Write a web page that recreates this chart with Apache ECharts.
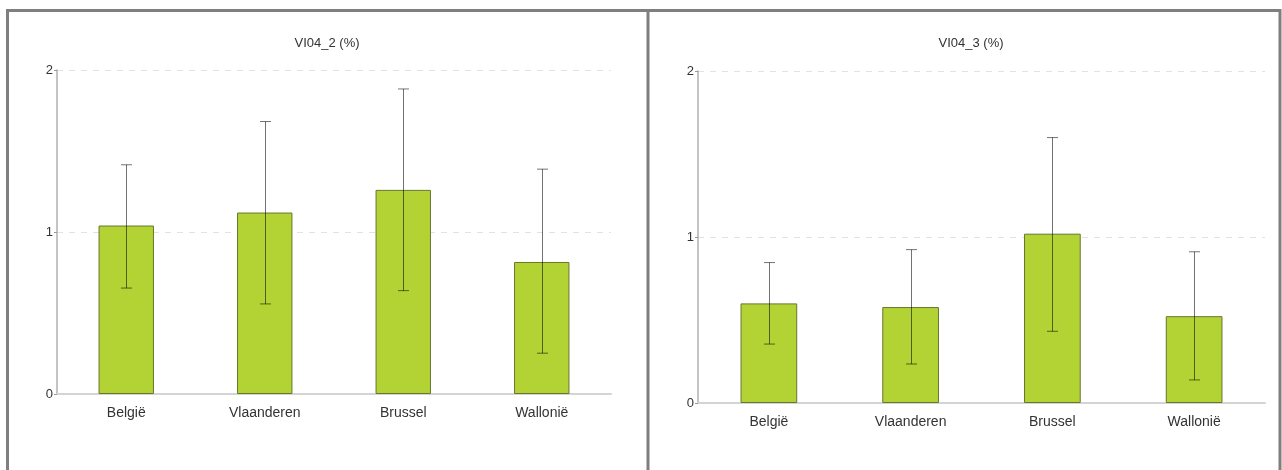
<!DOCTYPE html>
<html>
<head>
<meta charset="utf-8">
<script src="https://cdn.jsdelivr.net/npm/echarts@6/dist/echarts.min.js"></script>
<style>
  html, body { margin: 0; padding: 0; background: #fff; }
  #chart { width: 1282px; height: 470px; }
</style>
</head>
<body>
<div id="chart"></div>
<script>
// ---- data ----
const categories = ['België', 'Vlaanderen', 'Brussel', 'Wallonië'];
const titles = ['VI04_2 (%)', 'VI04_3 (%)'];
const yTicks = [0, 1, 2];

const vi042Values = [1.04, 1.12, 1.26, 0.815];
const vi042Low    = [0.654, 0.556, 0.638, 0.252];
const vi042High   = [1.415, 1.682, 1.883, 1.388];

const vi043Values = [0.60, 0.578, 1.02, 0.523];
const vi043Low    = [0.355, 0.235, 0.432, 0.139];
const vi043High   = [0.846, 0.924, 1.599, 0.911];

// ---- build ----
const chart = echarts.init(document.getElementById('chart'), null, { renderer: 'canvas' });
const FONT = '"Liberation Sans", Arial, Helvetica, sans-serif';

function errData(low, high) {
  return categories.map((c, i) => [i, low[i], high[i]]);
}

function renderErr(params, api) {
  const x = api.value(0);
  const lo = api.coord([x, api.value(1)]);
  const hi = api.coord([x, api.value(2)]);
  const hw = 5.5;
  const style = { stroke: 'rgba(0,0,0,0.55)', lineWidth: 1, fill: null };
  const cx = Math.round(lo[0]) + 0.5;
  return {
    type: 'group',
    children: [
      { type: 'line', shape: { x1: cx, y1: lo[1], x2: cx, y2: hi[1] }, style: style },
      { type: 'line', shape: { x1: cx - hw, y1: lo[1], x2: cx + hw, y2: lo[1] }, style: style },
      { type: 'line', shape: { x1: cx - hw, y1: hi[1], x2: cx + hw, y2: hi[1] }, style: style }
    ]
  };
}

const grids = [
  { left: 57, right: 671, top: 70, bottom: 76 },
  { left: 698, right: 17, top: 71, bottom: 67 }
];

function xAxisCfg(gi) {
  return {
    type: 'category', gridIndex: gi, data: categories,
    axisLine: { lineStyle: { color: '#d4d4d4', width: 2 } },
    axisTick: { show: false },
    axisLabel: { color: '#333', fontSize: 14, fontFamily: FONT, margin: 12 }
  };
}
function yAxisCfg(gi) {
  return {
    type: 'value', gridIndex: gi, min: yTicks[0], max: yTicks[yTicks.length - 1], interval: 1,
    axisLine: { show: true, lineStyle: { color: '#b0b0b0', width: 1.5 } },
    axisTick: { show: true, length: 3, lineStyle: { color: '#999' } },
    axisLabel: { color: '#333', fontSize: 13, fontFamily: FONT, margin: 4 },
    splitLine: { show: true, lineStyle: { color: '#e2e2e2', type: [6, 6], width: 1 } }
  };
}

const barStyle = { color: '#b3d334', borderColor: '#66762e', borderWidth: 1 };

const option = {
  animation: false,
  backgroundColor: '#fff',
  title: [
    { text: titles[0], left: 322, top: 32, textAlign: 'center',
      textStyle: { fontSize: 13, fontWeight: 'normal', color: '#333', fontFamily: FONT } },
    { text: titles[1], left: 966, top: 32, textAlign: 'center',
      textStyle: { fontSize: 13, fontWeight: 'normal', color: '#333', fontFamily: FONT } }
  ],
  grid: grids,
  xAxis: [xAxisCfg(0), xAxisCfg(1)],
  yAxis: [yAxisCfg(0), yAxisCfg(1)],
  series: [
    { type: 'bar', xAxisIndex: 0, yAxisIndex: 0, data: vi042Values, barWidth: '40%', itemStyle: barStyle, z: 2 },
    { type: 'custom', xAxisIndex: 0, yAxisIndex: 0, data: errData(vi042Low, vi042High), renderItem: renderErr, z: 3 },
    { type: 'bar', xAxisIndex: 1, yAxisIndex: 1, data: vi043Values, barWidth: '40%', itemStyle: barStyle, z: 2 },
    { type: 'custom', xAxisIndex: 1, yAxisIndex: 1, data: errData(vi043Low, vi043High), renderItem: renderErr, z: 3 }
  ],
  graphic: [
    { type: 'polyline', z: 100, shape: { points: [[7.5, 470], [7.5, 10.5], [1280, 10.5], [1280, 470]] },
      style: { stroke: '#7f7f7f', lineWidth: 3, fill: null } },
    { type: 'line', z: 100, shape: { x1: 648, y1: 10, x2: 648, y2: 470 },
      style: { stroke: '#7f7f7f', lineWidth: 3 } }
  ]
};

chart.setOption(option);
</script>
</body>
</html>
